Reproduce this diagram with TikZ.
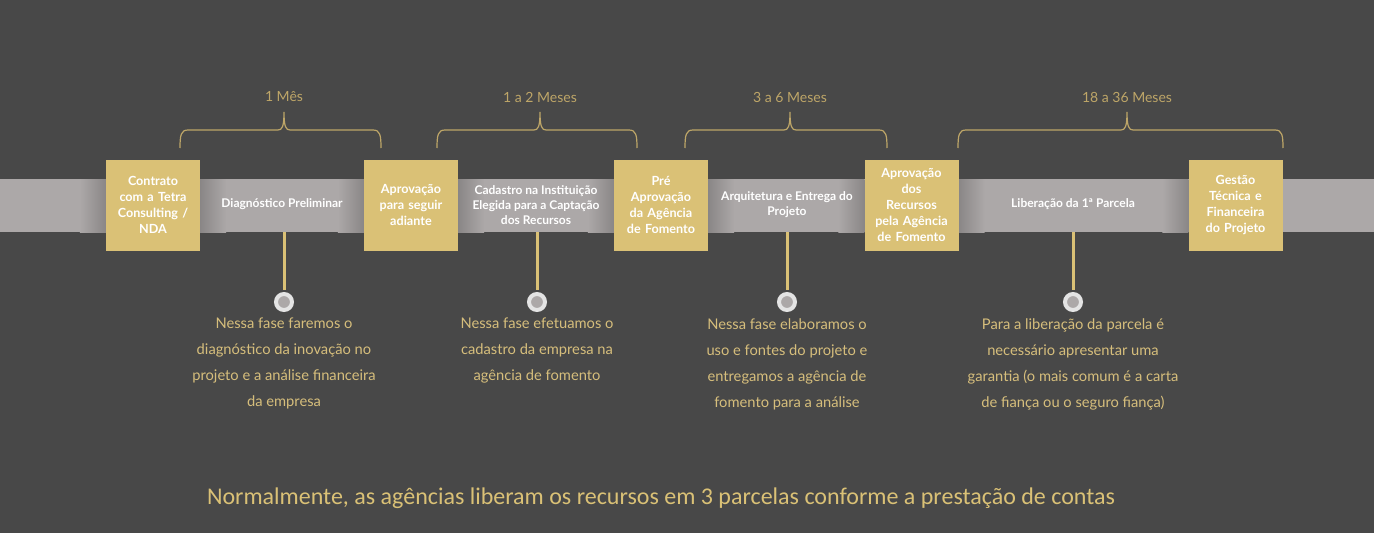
\documentclass[tikz,border=0pt]{standalone}
\usepackage{fontspec}
\setmainfont{Lato}
\newfontfamily\captionfont{Carlito}
\usetikzlibrary{positioning}
\pgfdeclarelayer{back}
\pgfdeclarelayer{mid}
\pgfsetlayers{back,mid,main}
\definecolor{bgdark}{RGB}{72,72,72}
\definecolor{bandgrey}{RGB}{172,168,168}
\definecolor{boxgold}{RGB}{218,193,118}
\definecolor{textgold}{RGB}{214,190,124}
\definecolor{bracegold}{RGB}{190,166,104}
\definecolor{ringgrey}{RGB}{228,228,228}

\begin{document}
\begin{tikzpicture}[x=1pt, y=-1pt,
    milestone/.style={fill=boxgold, minimum height=91pt, inner sep=4pt,
                      text width=86pt, align=center, text=white,
                      font=\bfseries\fontsize{12.6}{16}\selectfont},
    phase/.style={text=white, align=center, font=\bfseries\fontsize{12}{15}\selectfont},
    pin/.style={circle, draw=ringgrey, line width=4pt, fill=bandgrey,
                minimum size=16pt, inner sep=0pt},
    desc/.style={text=textgold, align=center, inner sep=0pt,
                 font=\fontsize{14.7}{26}\selectfont},
    dur/.style={text=bracegold, font=\fontsize{14}{17}\selectfont},
    brace/.style={draw=bracegold, line width=1.2pt},
    stem/.style={draw=boxgold, line width=3pt, shorten >=2pt}
  ]
    \begin{pgfonlayer}{back}
      \fill[bgdark] (0,0) rectangle (1374,533);
    \end{pgfonlayer}
    \useasboundingbox (0,0) rectangle (1374,533);

    %% Timeline band
    \begin{pgfonlayer}{back}
      \node[fill=bandgrey, minimum width=1374pt, minimum height=53pt, inner sep=0pt,
            anchor=north west] (band) at (0,179) {};
    \end{pgfonlayer}

    %% Durations with braces
    \foreach \xa/\xm/\xb/\lab [count=\i] in {180/284/381/1 Mês, 437/540/637/1 a 2 Meses,
        685/790/887/3 a 6 Meses, 958/1127/1283/18 a 36 Meses} {
      \draw[brace] (\xa,148) .. controls (\xa,135) and (\xa+1,130) .. (\xa+8,130)
        -- (\xm-6,130) .. controls (\xm-2,130) and (\xm,127) .. (\xm,112)
        .. controls (\xm,127) and (\xm+2,130) .. (\xm+6,130)
        -- (\xb-8,130) .. controls (\xb-1,130) and (\xb,135) .. (\xb,148);
      \node[dur] (dur\i) at (\xm,97) {\lab};
    }

    %% Phases on the band
    \node[phase] (ph1) at (282,204) {Diagnóstico Preliminar};
    \node[phase] (ph2) at (536,205) {Cadastro na Instituição\\Elegida para a Captação\\dos Recursos};
    \node[phase] (ph3) at (787,205) {Arquitetura e Entrega do\\Projeto};
    \node[phase] (ph4) at (1073,204) {Liberação da 1ª Parcela};

    %% Milestones
    \node[milestone] (m1) at (153,205) {Contrato\\com a Tetra\\Consulting /\\NDA};
    \node[milestone] (m2) at (411,205) {Aprovação\\para seguir\\adiante};
    \node[milestone] (m3) at (661,205) {Pré\\Aprovação\\da Agência\\de Fomento};
    \node[milestone] (m4) at (911.5,205) {Aprovação\\dos\\Recursos\\pela Agência\\de Fomento};
    \node[milestone] (m5) at (1235.5,205) {Gestão\\Técnica e\\Financeira\\do Projeto};

    %% Shadows of the milestones on the band
    \begin{pgfonlayer}{mid}
      \foreach \m in {m1,m2,m3,m4}
        \shade[left color=bandgrey!80!black, right color=bandgrey]
          (\m.east |- band.north) rectangle ++(26,53);
      \foreach \m in {m1,m2,m3,m4,m5}
        \shade[left color=bandgrey, right color=bandgrey!80!black]
          (\m.west |- band.north) rectangle ++(-26,53);
    \end{pgfonlayer}

    %% Pins
    \node[pin] (dot1) at (284,302) {};
    \node[pin] (dot2) at (537,302) {};
    \node[pin] (dot3) at (787,302) {};
    \node[pin] (dot4) at (1073,302) {};
    \foreach \i in {1,...,4}
      \draw[stem] (dot\i |- band.south) -- (dot\i.north);

    %% Descriptions
    \node[desc, below=6pt of dot1] (d1) {Nessa fase faremos o\\diagnóstico da inovação no\\projeto e a análise financeira\\da empresa};
    \node[desc, below=6pt of dot2] (d2) {Nessa fase efetuamos o\\cadastro da empresa na\\agência de fomento};
    \node[desc, below=6pt of dot3] (d3) {Nessa fase elaboramos o\\uso e fontes do projeto e\\entregamos a agência de\\fomento para a análise};
    \node[desc, below=6pt of dot4] (d4) {Para a liberação da parcela é\\necessário apresentar uma\\garantia (o mais comum é a carta\\de fiança ou o seguro fiança)};

    %% Note
    \node[text=boxgold, font=\captionfont\fontsize{24}{28}\selectfont] (note) at (661,498)
      {Normalmente, as agências liberam os recursos em 3 parcelas conforme a prestação de contas};
  \end{tikzpicture}
\end{document}
